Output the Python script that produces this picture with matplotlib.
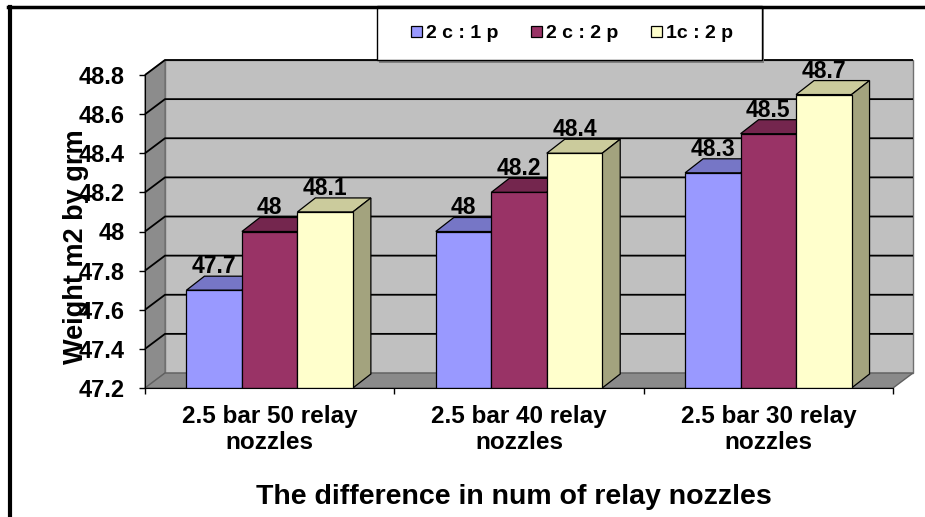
import matplotlib
matplotlib.use('Agg')
import matplotlib.pyplot as plt
from matplotlib.patches import Polygon, Rectangle
from matplotlib.lines import Line2D

plt.rcParams['font.family'] = ['Liberation Sans', 'DejaVu Sans']

# ---------------- data ----------------
categories = ['2.5 bar 50 relay\nnozzles', '2.5 bar 40 relay\nnozzles', '2.5 bar 30 relay\nnozzles']
series_names = ['2 c : 1 p', '2 c : 2 p', '1c : 2 p']
s_2c1p = [47.7, 48.0, 48.3]
s_2c2p = [48.0, 48.2, 48.5]
s_1c2p = [48.1, 48.4, 48.7]
yticks = [47.2, 47.4, 47.6, 47.8, 48.0, 48.2, 48.4, 48.6, 48.8]
ytick_labels = ['47.2', '47.4', '47.6', '47.8', '48', '48.2', '48.4', '48.6', '48.8']
x_title = 'The difference in num of relay nozzles'
y_title = 'Weight m2 by grm'

series = [s_2c1p, s_2c2p, s_1c2p]
front_cols = ['#9999FF', '#993366', '#FFFFCC']
top_cols = ['#7676C6', '#74264E', '#CBCB9C']
side_cols = ['#6A6AB4', '#6A2247', '#A3A37E']

W, H, DPI = 925, 517, 100
fig = plt.figure(figsize=(W / DPI, H / DPI), dpi=DPI)
fig.patch.set_facecolor('white')

ax = fig.add_axes([145 / W, 1 - 388 / H, 748 / W, 313 / H])
ymin, ymax = yticks[0], yticks[-1]
ncat = len(categories)
ax.set_xlim(0, ncat)
ax.set_ylim(ymin, ymax)
ax.patch.set_visible(False)

pxx = ax.bbox.width / ncat
pxy = ax.bbox.height / (ymax - ymin)
wdx, wdy = 20 / pxx, 15 / pxy   # wall depth
bdx, bdy = 18 / pxx, 14 / pxy   # bar depth

# walls
back = Polygon([(wdx, ymin + wdy), (ncat + wdx, ymin + wdy), (ncat + wdx, ymax + wdy), (wdx, ymax + wdy)],
               closed=True, facecolor='#C0C0C0', edgecolor='#707070', lw=1, clip_on=False, zorder=0.5)
left = Polygon([(0, ymin), (wdx, ymin + wdy), (wdx, ymax + wdy), (0, ymax)],
               closed=True, facecolor='#8C8C8C', edgecolor='#707070', lw=1, clip_on=False, zorder=0.5)
floor = Polygon([(0, ymin), (ncat, ymin), (ncat + wdx, ymin + wdy), (wdx, ymin + wdy)],
                closed=True, facecolor='#8A8A8A', edgecolor='#606060', lw=1, clip_on=False, zorder=0.55)
for p in (back, left, floor):
    ax.add_patch(p)

for v in yticks[1:]:
    ax.plot([0, wdx, ncat + wdx], [v, v + wdy, v + wdy], color='black', lw=1.3,
            clip_on=False, zorder=0.6, solid_capstyle='butt')

# bars
w = 0.2225
handles = []
for i, vals in enumerate(series):
    centers = [j + 0.5 + (i - 1) * w for j in range(ncat)]
    heights = [v - ymin for v in vals]
    bc = ax.bar(centers, heights, width=w, bottom=ymin, color=front_cols[i],
                edgecolor='black', linewidth=0.9, zorder=3 + i + 0.5)
    handles.append(bc)
    for c, v in zip(centers, vals):
        x0, x1 = c - w / 2, c + w / 2
        top = Polygon([(x0, v), (x1, v), (x1 + bdx, v + bdy), (x0 + bdx, v + bdy)], closed=True,
                      facecolor=top_cols[i], edgecolor='black', lw=0.9, clip_on=False, zorder=3 + i)
        side = Polygon([(x1, ymin), (x1 + bdx, ymin + bdy), (x1 + bdx, v + bdy), (x1, v)], closed=True,
                       facecolor=side_cols[i], edgecolor='black', lw=0.9, clip_on=False, zorder=3 + i)
        ax.add_patch(top)
        ax.add_patch(side)
        ax.annotate(f'{v:g}', (c, v), xytext=(0, 17), textcoords='offset pixels',
                    ha='center', va='baseline', fontsize=16.5, fontweight='bold',
                    color='black', zorder=10, annotation_clip=False)

# axes / ticks
for s in ('top', 'right'):
    ax.spines[s].set_visible(False)
ax.spines['left'].set_color('black')
ax.spines['bottom'].set_color('black')
ax.spines['left'].set_zorder(8)
ax.spines['bottom'].set_zorder(8)
ax.set_yticks(yticks)
ax.set_yticklabels(ytick_labels, fontsize=17, fontweight='bold')
ax.tick_params(axis='y', direction='out', length=4.5, width=1, pad=10)
ax.set_xticks(range(ncat + 1))
ax.set_xticklabels([])
ax.tick_params(axis='x', which='major', direction='out', length=4.5, width=1)
ax.set_xticks([j + 0.5 for j in range(ncat)], minor=True)
ax.set_xticklabels(categories, minor=True, fontsize=17.5, fontweight='bold', linespacing=1.15)
ax.tick_params(axis='x', which='minor', length=0, pad=12.5)

fig.text(514 / W, 1 - 497 / H, x_title, ha='center', va='center', fontsize=20.5, fontweight='bold')
fig.text(76 / W, 1 - 247 / H, y_title, ha='center', va='center', rotation=90,
         fontsize=19.5, fontweight='bold', zorder=20)

# legend
fig.add_artist(Rectangle((379 / W, 1 - 63 / H), 385 / W, 55 / H, transform=fig.transFigure,
                         facecolor='#808080', edgecolor='none', zorder=4))
fig.add_artist(Rectangle((377 / W, 1 - 60 / H), 385 / W, 54 / H, transform=fig.transFigure,
                         facecolor='white', edgecolor='black', lw=1, zorder=5))
leg = fig.legend(handles, series_names, loc='center', bbox_to_anchor=(572 / W, 1 - 34 / H),
                 ncol=3, frameon=False, prop={'size': 14, 'weight': 'bold'},
                 handlelength=0.55, handleheight=0.55, handletextpad=0.2, columnspacing=1.7)
leg.set_zorder(6)

# figure border
fig.add_artist(Line2D([8 / W, 1], [1 - 7 / H, 1 - 7 / H], transform=fig.transFigure,
                      color='black', lw=2.5, zorder=30))
fig.add_artist(Line2D([10 / W, 10 / W], [0, 1 - 7 / H], transform=fig.transFigure,
                      color='black', lw=3, zorder=30))

fig.savefig('out.png', dpi=DPI)
